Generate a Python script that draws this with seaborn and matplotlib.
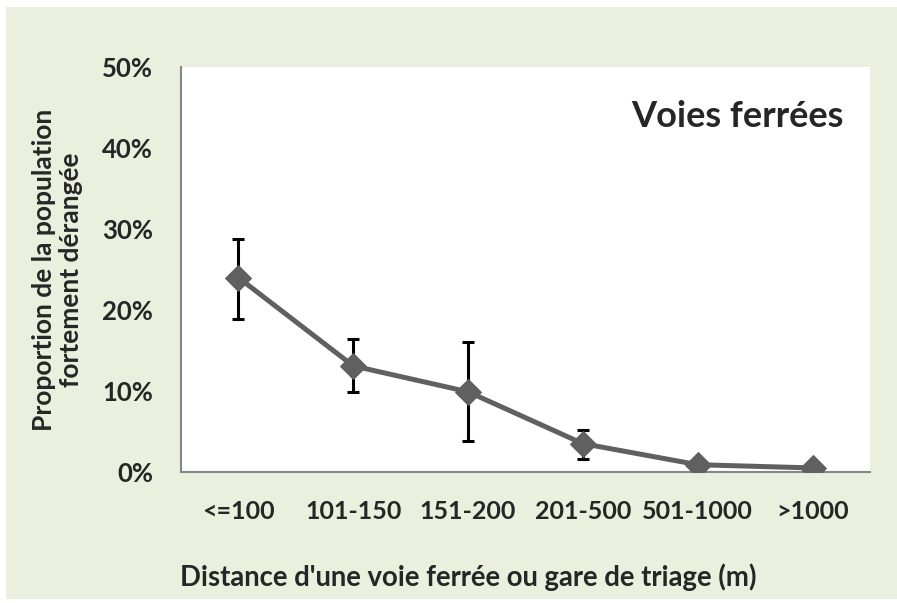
import numpy as np
import pandas as pd
import matplotlib
matplotlib.use("Agg")
import matplotlib.pyplot as plt
from matplotlib.patches import Rectangle
import seaborn as sns

categories = ["<=100", "101-150", "151-200", "201-500", "501-1000", ">1000"]
proportion = [24.0, 13.1, 9.9, 3.5, 0.9, 0.5]
err_low = [18.9, 9.9, 3.8, 1.6, 0.9, 0.5]
err_high = [28.8, 16.4, 16.0, 5.2, 0.9, 0.5]
y_ticks = [0, 10, 20, 30, 40, 50]

df = pd.DataFrame({"distance": categories, "proportion": proportion})

sns.set_style("white")
plt.rcParams["font.family"] = ["Lato", "DejaVu Sans"]

green = "#EBEFDE"
fig = plt.figure(figsize=(8.97, 6.03), dpi=100, facecolor="white")
fig.patches.append(Rectangle((6 / 897, 4 / 603), 891 / 897, 592 / 603,
                             transform=fig.transFigure, facecolor=green,
                             edgecolor="none", zorder=-10))
ax = fig.add_axes([181 / 897, 131 / 603, 689 / 897, 405 / 603])
ax.set_facecolor("white")

x = np.arange(len(categories))
lo = np.array(proportion) - np.array(err_low)
hi = np.array(err_high) - np.array(proportion)
ax.errorbar(x, proportion, yerr=[lo, hi], fmt="none", ecolor="black",
            elinewidth=2.2, capsize=4.5, capthick=2.2, zorder=2)

sns.lineplot(data=df, x="distance", y="proportion", ax=ax, color="#606060",
             linewidth=3.6, marker="D", markersize=13, markeredgecolor="#606060",
             zorder=3, sort=False)

ax.set_xlim(-0.5, len(categories) - 0.5)
ax.set_ylim(0, 50)
ax.set_yticks(y_ticks)
ax.set_yticklabels([f"{v}%" for v in y_ticks], fontsize=18.5, fontweight="bold")
ax.set_xticks(x)
ax.set_xticklabels(categories, fontsize=18, fontweight="bold")
ax.set_xticks(np.arange(-0.5, len(categories)), minor=True)
ax.tick_params(axis="x", which="major", length=0, pad=20)
ax.tick_params(axis="x", which="minor", length=8, width=1.3, color="#868686", direction="out")
ax.tick_params(axis="y", length=8, width=1.3, color="#868686", direction="out", pad=12)

for side in ["top", "right"]:
    ax.spines[side].set_visible(False)
for side in ["left", "bottom"]:
    ax.spines[side].set_color("#868686")
    ax.spines[side].set_linewidth(1.5)

ax.set_xlabel("")
fig.text(468 / 897, 1 - 577 / 603, "Distance d'une voie ferrée ou gare de triage (m)",
         ha="center", va="center", fontsize=19.8, fontweight="bold")
ax.set_ylabel("Proportion de la population\nfortement dérangée",
              fontsize=19, fontweight="bold", labelpad=14, linespacing=1.15)
ax.text(0.961, 0.879, "Voies ferrées", transform=ax.transAxes, ha="right",
        va="center", fontsize=26, fontweight="bold")

fig.savefig("out.png", dpi=100, facecolor="white")
